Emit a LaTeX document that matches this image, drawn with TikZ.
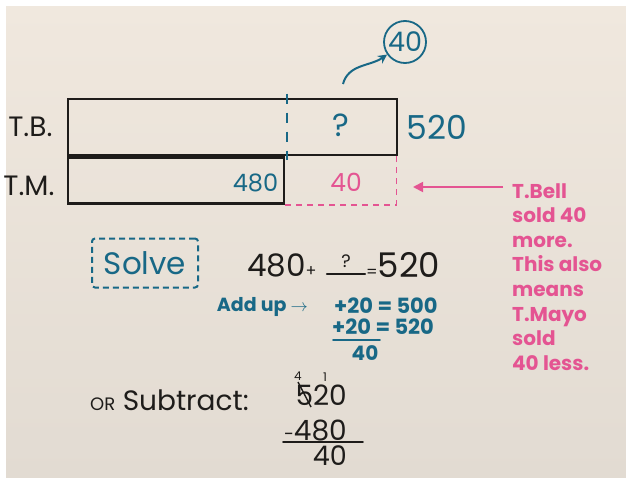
\documentclass[tikz,border=0pt]{standalone}
\usepackage{fontspec}
\setmainfont{Poppins}
\usetikzlibrary{arrows, arrows.meta, positioning, calc}

\definecolor{inkteal}{RGB}{24,104,134}
\definecolor{inkpink}{RGB}{228,84,146}
\definecolor{inkblack}{RGB}{30,28,26}
\definecolor{paper}{RGB}{240,232,222}
\definecolor{paperlow}{RGB}{226,219,210}

\newcommand{\inksize}[1]{\fontsize{#1}{#1}\selectfont}

\begin{document}
\begin{tikzpicture}[
    x=1pt, y=-1pt,
    bar/.style={rectangle, draw=inkblack, line width=2.8pt, inner sep=0pt},
    lbl/.style={text=inkblack, inner sep=0pt},
    tealtxt/.style={text=inkteal, inner sep=0pt},
    pinktxt/.style={text=inkpink, inner sep=0pt},
    solvebox/.style={rectangle, draw=inkteal, line width=2pt, dash pattern=on 6pt off 4pt, rounded corners=3pt, minimum width=106pt, minimum height=49pt, text=inkteal, font=\inksize{31}},
    tealarrow/.style={-{Stealth[length=9pt, width=9pt]}, line width=2pt, draw=inkteal},
    pinkarrow/.style={-{Triangle[length=10pt, width=10pt]}, line width=1.8pt, draw=inkpink},
    rule/.style={line width=1.8pt, line cap=round}
]
    % paper
    \fill[white] (0,0) rectangle (626,477);
    \shade[top color=paper, bottom color=paperlow] (6,6) rectangle (626,477);
    \useasboundingbox (0,0) rectangle (626,477);

    % tape diagram
    \node[bar, minimum width=329pt, minimum height=56pt] (tbbar) at (232.5,127) {};
    \node[bar, minimum width=216pt, minimum height=46pt, anchor=north west] (tmbar) at (tbbar.south west) {};
    \draw[inkteal, line width=2pt, dash pattern=on 10pt off 9pt] ($(tbbar.north -| tmbar.east)+(2,-4)$) -- ($(tmbar.north east)+(2,4)$);
    \draw[inkpink, line width=1.6pt, dash pattern=on 6pt off 5pt] (tmbar.south east) -| ($(tbbar.south east)+(-2,0)$);

    \node[lbl, font=\inksize{28}, anchor=east] (tblbl) at ([xshift=-14pt]tbbar.west) {T.B.};
    \node[lbl, font=\inksize{28}, anchor=east, yshift=-5pt] (tmlbl) at ([xshift=-12pt]tmbar.west) {T.M.};
    \node[tealtxt, font=\inksize{32}] (q) at (341,125) {?};
    \node[tealtxt, font=\inksize{33}, anchor=west] (total) at ([xshift=8pt]tbbar.east) {520};
    \node[tealtxt, font=\inksize{24}, anchor=east, yshift=-2pt] (tmval) at ([xshift=-7pt]tmbar.east) {480};
    \node[pinktxt, font=\inksize{25}] (diff) at (346,182) {40};

    % answer bubble
    \node[circle, draw=inkteal, line width=1.8pt, tealtxt, font=\inksize{27}, minimum size=42pt] (ans) at (405,42) {40};
    \coordinate (qtail) at (343,84);
    \draw[tealarrow] (qtail) to[out=75, in=215] (ans);

    % pink note
    \node[pinktxt, anchor=north west, align=left, font=\bfseries\fontsize{20}{24.6}\selectfont] (note) at (512,183)
        {T.Bell\\ sold 40\\ more.\\ This also\\ means\\ T.Mayo\\ sold\\ 40 less.};
    \coordinate (tail) at (503,187);
    \coordinate (tip) at (413,187);
    \draw[pinkarrow] (tail) -- (tip);

    % solve
    \node[solvebox] (solve) at (145,263) {Solve};
    \node[lbl, font=\inksize{31}, anchor=west] (eqlhs) at (247,265) {480{\inksize{16}+}};
    \node[lbl, font=\inksize{18}, minimum width=38pt, minimum height=14pt] (eqblank) at (346,261) {?};
    \draw[rule, inkblack] ([yshift=-6pt]eqblank.south west) -- ([yshift=-6pt]eqblank.south east);
    \node[lbl, font=\inksize{34}, anchor=west] (eqrhs) at (366,265) {{\inksize{16}=}520};

    % add up
    \node[tealtxt, font=\bfseries\inksize{19}, anchor=east] (addup) at (308,307) {Add up $\rightarrow$};
    \node[tealtxt, font=\bfseries\inksize{21}, anchor=west] (step1) at (334,306) {+20 = 500};
    \node[tealtxt, font=\bfseries\inksize{21}, anchor=west] (step2) at (332,327) {+20 = 520};
    \draw[rule, inkteal] (333,340) -- (380,340);
    \node[tealtxt, font=\bfseries\inksize{20}] (addsum) at (365,353) {40};

    % subtract
    \node[lbl, font=\inksize{28}, anchor=west] (orsub) at (90,400) {{\inksize{18}OR} Subtract:};
    \node[lbl, font=\inksize{28}, anchor=east] (subtop) at (347,395) {520};
    \draw[inkblack, line width=1.4pt] (298,382) -- (311,407);
    \node[lbl, font=\inksize{12}] (regroupa) at (298,376) {4};
    \node[lbl, font=\inksize{12}] (regroupb) at (325,377) {1};
    \node[lbl, font=\inksize{28}, anchor=east] (subbot) at (347,430) {{\inksize{18}-}480};
    \draw[rule, inkblack] (283,442) -- (363,442);
    \node[lbl, font=\inksize{27}, anchor=east] (subres) at (347,456) {40};
\end{tikzpicture}
\end{document}
